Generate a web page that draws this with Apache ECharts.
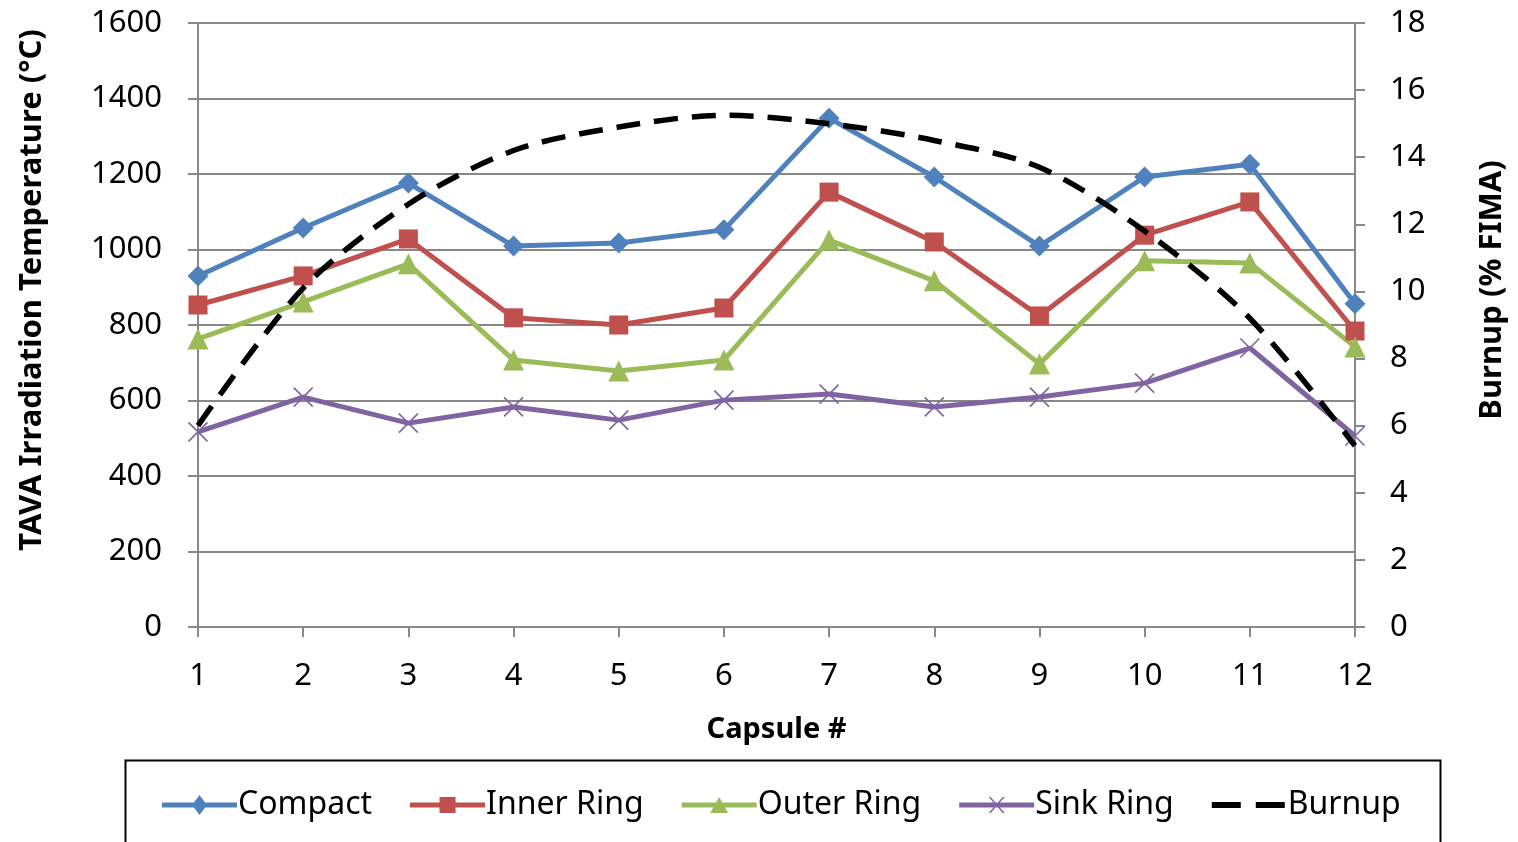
<!DOCTYPE html>
<html>
<head>
<meta charset="utf-8">
<script src="https://cdn.jsdelivr.net/npm/echarts@6/dist/echarts.min.js"></script>
<style>
html,body{margin:0;padding:0;background:#fff;}
#chart{width:1518px;height:842px;}
</style>
</head>
<body>
<div id="chart"></div>
<script>
const capsules = ['1','2','3','4','5','6','7','8','9','10','11','12'];
const compact   = [930, 1057, 1176, 1009, 1017, 1052, 1348, 1192, 1009, 1192, 1226, 856];
const innerRing = [853, 930, 1028, 819, 800, 845, 1152, 1020, 824, 1038, 1126, 784];
const outerRing = [763, 861, 962, 707, 678, 707, 1025, 917, 697, 970, 964, 742];
const sinkRing  = [517, 609, 540, 583, 548, 601, 617, 583, 609, 646, 739, 506];
const burnup    = [6.0, 10.1, 12.6, 14.2, 14.9, 15.25, 15.0, 14.5, 13.7, 11.8, 9.2, 5.4];

const FONT = 'Noto Sans';
const AX = '#888888';

const chart = echarts.init(document.getElementById('chart'));

function tempSeries(name, data, color, symbol, size) {
  return {
    name: name, type: 'line', data: data, yAxisIndex: 0,
    symbol: symbol, symbolSize: size,
    lineStyle: {color: color, width: 5},
    itemStyle: {color: color},
    z: 3
  };
}

const sink = tempSeries('Sink Ring', sinkRing, '#8064A2', 'path://M0,0L10,10M10,0L0,10', 19);
sink.itemStyle = {color: '#8064A2', borderColor: '#8064A2', borderWidth: 1.6};

const LINE = 'M0,7.5H75V12.5H0Z ';
const legendData = [
  {name: 'Compact',    icon: 'path://' + LINE + 'M37.5,0L45,10L37.5,20L30,10Z'},
  {name: 'Inner Ring', icon: 'path://' + LINE + 'M29.5,2H45.5V18H29.5Z'},
  {name: 'Outer Ring', icon: 'path://' + LINE + 'M37.5,2L46.5,18H28.5Z'},
  {name: 'Sink Ring',  icon: 'path://' + LINE + 'M29.5,2L31.5,2L45.5,18L43.5,18Z M43.5,2L45.5,2L31.5,18L29.5,18Z', itemStyle: {borderWidth: 0}},
  {name: 'Burnup',     icon: 'path://M0,7H29V13H0Z M44,7H73V13H44Z M0,0H0.01V0.01H0Z M75,20H75.01V20.01H75Z'}
];

chart.setOption({
  animation: false,
  backgroundColor: '#fff',
  textStyle: {fontFamily: FONT},
  grid: {left: 198, right: 163, top: 23, bottom: 215, containLabel: false, outerBoundsMode: 'none'},
  graphic: [{
    type: 'rect', left: 123, top: 758,
    shape: {width: 1315, height: 110},
    style: {fill: 'none', stroke: '#000', lineWidth: 2},
    z: 0
  }],
  legend: {
    left: 157, top: 784,
    itemWidth: 75, itemHeight: 20, itemGap: 38,
    textStyle: {fontFamily: FONT, fontSize: 32, color: '#000', padding: [0, 0, 0, -4]},
    data: legendData
  },
  xAxis: {
    type: 'category', data: capsules, boundaryGap: false,
    name: 'Capsule #', nameLocation: 'middle', nameGap: 88,
    nameTextStyle: {fontFamily: FONT, fontSize: 29, fontWeight: 'bold', color: '#000'},
    axisLine: {lineStyle: {color: AX, width: 2}},
    axisTick: {show: true, alignWithLabel: true, length: 10, lineStyle: {color: AX, width: 2}},
    axisLabel: {fontFamily: FONT, fontSize: 31, color: '#000', margin: 34}
  },
  yAxis: [{
    type: 'value', min: 0, max: 1600, interval: 200,
    name: 'TAVA Irradiation Temperature (°C)', nameLocation: 'middle', nameGap: 150, nameRotate: 90,
    nameTextStyle: {fontFamily: FONT, fontSize: 31, fontWeight: 'bold', color: '#000', padding: [0, 0, 0, 70]},
    axisLine: {show: true, lineStyle: {color: AX, width: 2}},
    axisTick: {show: true, length: 10, lineStyle: {color: AX, width: 2}},
    axisLabel: {fontFamily: FONT, fontSize: 31, color: '#000', margin: 36, formatter: v => String(v)},
    splitLine: {show: true, lineStyle: {color: AX, width: 2}}
  }, {
    type: 'value', min: 0, max: 18, interval: 2, position: 'right',
    name: 'Burnup (% FIMA)', nameLocation: 'middle', nameGap: 122, nameRotate: 90,
    nameTextStyle: {fontFamily: FONT, fontSize: 31, fontWeight: 'bold', color: '#000', padding: [0, 0, 0, 70]},
    axisLine: {show: true, lineStyle: {color: AX, width: 2}},
    axisTick: {show: true, length: 10, lineStyle: {color: AX, width: 2}},
    axisLabel: {fontFamily: FONT, fontSize: 31, color: '#000', margin: 35, formatter: v => String(v)},
    splitLine: {show: false}
  }],
  series: [
    tempSeries('Compact', compact, '#4F81BD', 'diamond', 21),
    tempSeries('Inner Ring', innerRing, '#C0504D', 'rect', 19),
    tempSeries('Outer Ring', outerRing, '#9BBB59', 'triangle', 21),
    sink,
    {
      name: 'Burnup', type: 'line', data: burnup, yAxisIndex: 1,
      smooth: 0.3, symbol: 'none', showSymbol: false,
      lineStyle: {color: '#000', width: 5.5, type: [24, 14], cap: 'butt'},
      itemStyle: {color: '#000'},
      z: 4
    }
  ]
});
</script>
</body>
</html>
